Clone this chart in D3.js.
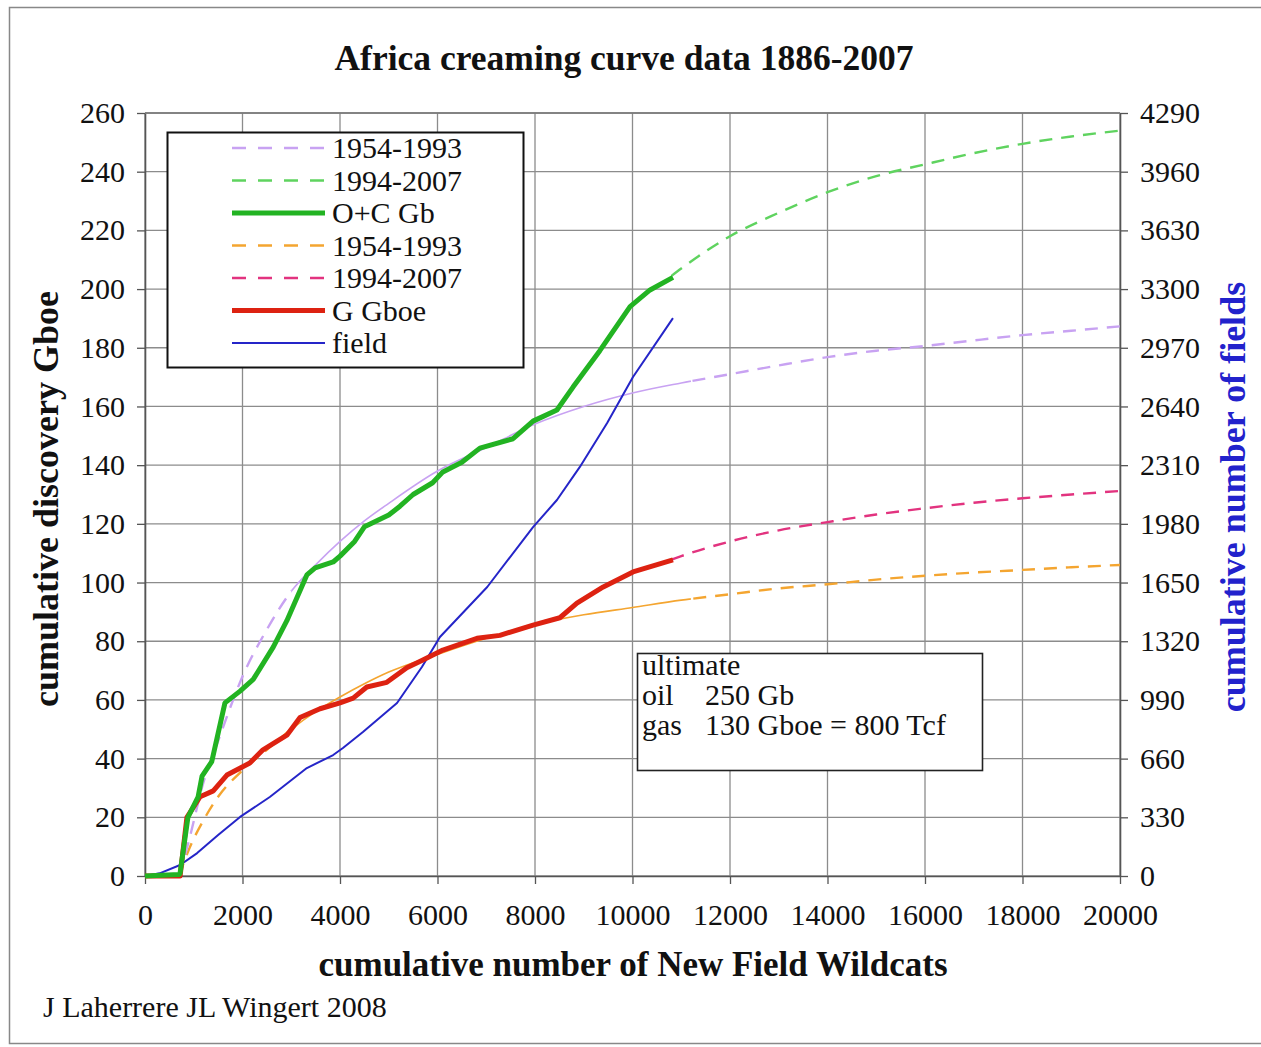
<!DOCTYPE html>
<html>
<head>
<meta charset="utf-8">
<script src="https://cdn.jsdelivr.net/npm/d3@7"></script>
<style>
  body { margin: 0; background: #fff; }
  text { font-family: "Liberation Serif", "Times New Roman", serif; fill: #111; }
</style>
</head>
<body>
<div id="chart"></div>
<script>
// cumulative New Field Wildcats (x) and discoveries

// O+C Gb, data
var ocWildcats = [0, 700, 720, 880, 1090, 1170, 1370, 1640, 1950, 2220, 2630, 2910, 3320, 3490, 3860, 4000, 4300, 4500, 5000, 5230, 5500, 5900, 6110, 6500, 6870, 7550, 7960, 8450, 8780, 9330, 9950, 10360, 10830];
var ocGb       = [0, 0.5, 1, 20, 27, 34, 39, 59, 63, 67, 78, 87, 102.6, 105, 107, 109, 114, 119, 123, 126, 130, 134, 137.7, 141, 145.8, 149, 155, 158.8, 166.6, 179, 194, 199.7, 204];

// G Gboe, data
var gWildcats = [0, 720, 860, 1130, 1400, 1680, 2150, 2420, 2910, 3180, 3590, 4000, 4270, 4550, 4960, 5370, 5700, 6110, 6810, 7280, 7960, 8510, 8860, 9400, 10010, 10830];
var gGboe     = [0, 0, 20, 27, 29, 34.4, 38.5, 43, 48, 54, 57, 59, 60.6, 64.4, 66, 71, 73.6, 77, 81, 82, 85.5, 88, 93, 98.5, 103.6, 107.7];

// field count (right axis)
var fieldWildcats = [0, 300, 720, 1070, 1500, 1950, 2560, 3320, 3860, 4060, 4470, 5170, 5680, 6050, 7020, 7960, 8450, 8920, 9480, 10010, 10830];
var fields        = [0, 15, 62, 129, 230, 332, 444, 607, 680, 720, 810, 973, 1175, 1344, 1625, 1962, 2114, 2300, 2547, 2806, 3137];

// fitted curves 1954-1993
var fitEarlyWildcats = [700, 900, 1200, 1500, 2000, 2500, 3000, 3500, 4000, 4500, 5000, 6000, 7000, 8000, 9000, 10000, 11000, 12000, 13000, 14000, 15000, 16000, 17000, 18000, 19000, 20000];
var ocFitEarly = [0, 12, 32, 46, 68, 84, 97, 106, 114, 121, 127, 138, 146, 154, 160, 164.6, 168, 171, 174, 176.8, 179, 180.6, 182.5, 184.3, 185.8, 187.3];
var gFitEarly  = [0, 9, 19, 27, 36, 43, 50, 56, 61, 65.5, 69.5, 75.5, 81, 85.7, 89, 91.5, 94, 96, 98, 99.4, 101, 102.3, 103.4, 104.3, 105.2, 106];

// fitted curves 1994-2007
var fitLateWildcats = [10800, 11000, 12000, 13000, 14000, 15000, 16000, 17000, 18000, 19000, 20000];
var ocFitLate = [204.5, 207, 218, 226, 233, 238.5, 242.5, 246.3, 249.5, 252, 254];
var gFitLate  = [107.8, 109, 114, 117.8, 120.6, 123.2, 125.3, 127.2, 128.7, 130, 131.2];

// axes ticks
var xTicks = d3.range(0, 20001, 2000);
var yTicks = d3.range(0, 261, 20);
var fieldTicks = d3.range(0, 4291, 330);

var legendLabels = ["1954-1993", "1994-2007", "O+C Gb", "1954-1993", "1994-2007", "G Gboe", "field"];
var noteLines = [["ultimate", ""], ["oil", "250 Gb"], ["gas", "130 Gboe = 800 Tcf"]];

var W = 1261, H = 1047;
var svg = d3.select("#chart").append("svg").attr("width", W).attr("height", H);

// outer frame
svg.append("rect").attr("x", 9.5).attr("y", 7.5).attr("width", 1262).attr("height", 1036)
  .attr("fill", "none").attr("stroke", "#888").attr("stroke-width", 1.5);

var x = d3.scaleLinear().domain([0, 20000]).range([145, 1120]);
var y = d3.scaleLinear().domain([0, 260]).range([876, 113]);
var yF = d3.scaleLinear().domain([0, 4290]).range([876, 113]);

// grid
var grid = svg.append("g");
grid.selectAll(".gx").data(xTicks).enter().append("line")
  .attr("x1", function (d) { return x(d); }).attr("x2", function (d) { return x(d); })
  .attr("y1", y(0)).attr("y2", y(260))
  .attr("stroke", "#8c8c8c").attr("stroke-width", 1.3);
grid.selectAll(".gy").data(yTicks).enter().append("line")
  .attr("x1", x(0)).attr("x2", x(20000))
  .attr("y1", function (d) { return y(d); }).attr("y2", function (d) { return y(d); })
  .attr("stroke", "#8c8c8c").attr("stroke-width", 1.3);

// axes
var fmt = d3.format("d");
function styleAxis(g) {
  g.selectAll("path").attr("stroke", "#555").attr("stroke-width", 1.6);
  g.selectAll("line").attr("stroke", "#555").attr("stroke-width", 1.3);
  g.selectAll("text").attr("font-size", 30).attr("fill", "#111")
    .attr("font-family", "Liberation Serif, Times New Roman, serif");
}
svg.append("g").attr("transform", "translate(" + x(0) + ",0)")
  .call(d3.axisLeft(y).tickValues(yTicks).tickFormat(fmt).tickSize(8).tickPadding(12).tickSizeOuter(0))
  .call(styleAxis);
svg.append("g").attr("transform", "translate(" + x(20000) + ",0)")
  .call(d3.axisRight(yF).tickValues(fieldTicks).tickFormat(fmt).tickSize(8).tickPadding(12).tickSizeOuter(0))
  .call(styleAxis);
svg.append("g").attr("transform", "translate(0," + y(0) + ")")
  .call(d3.axisBottom(x).tickValues(xTicks).tickFormat(fmt).tickSize(8).tickPadding(20).tickSizeOuter(0))
  .call(styleAxis);
svg.append("line").attr("x1", x(0)).attr("x2", x(20000)).attr("y1", y(260)).attr("y2", y(260))
  .attr("stroke", "#777").attr("stroke-width", 1.5);

// series
var colors = {
  ocEarly: "#c8a2f2", ocLate: "#5fd35f", oc: "#22b322",
  gEarly: "#f4a530", gLate: "#e2337f", g: "#dd2211", field: "#2525c8"
};
var DASH = "13,9";

function pts(xs, ys) { return xs.map(function (d, i) { return [d, ys[i]]; }); }
var fitL = d3.line().x(function (d) { return x(d[0]); }).y(function (d) { return y(d[1]); }).curve(d3.curveMonotoneX);
var dataL = d3.line().x(function (d) { return x(d[0]); }).y(function (d) { return y(d[1]); });
var dataF = d3.line().x(function (d) { return x(d[0]); }).y(function (d) { return yF(d[1]); });

// solid section of the early fits (where the data is dense)
svg.append("clipPath").attr("id", "fitSolid").append("rect")
  .attr("x", x(3000)).attr("y", 0).attr("width", x(11200) - x(3000)).attr("height", H);
svg.append("clipPath").attr("id", "fitDashed").append("rect")
  .attr("x", 0).attr("y", 0).attr("width", x(3000)).attr("height", H);
svg.append("clipPath").attr("id", "fitDashed2").append("rect")
  .attr("x", x(11200)).attr("y", 0).attr("width", W).attr("height", H);

function fitCurve(data, color) {
  var g = svg.append("g");
  ["fitDashed", "fitDashed2"].forEach(function (id) {
    g.append("path").datum(data).attr("d", fitL).attr("fill", "none")
      .attr("stroke", color).attr("stroke-width", 2.4).attr("stroke-dasharray", DASH)
      .attr("clip-path", "url(#" + id + ")");
  });
  g.append("path").datum(data).attr("d", fitL).attr("fill", "none")
    .attr("stroke", color).attr("stroke-width", 1.6).attr("clip-path", "url(#fitSolid)");
}
fitCurve(pts(fitEarlyWildcats, gFitEarly), colors.gEarly);
fitCurve(pts(fitEarlyWildcats, ocFitEarly), colors.ocEarly);

svg.append("path").datum(pts(fitLateWildcats, gFitLate)).attr("d", fitL).attr("fill", "none")
  .attr("stroke", colors.gLate).attr("stroke-width", 2.4).attr("stroke-dasharray", DASH);
svg.append("path").datum(pts(fitLateWildcats, ocFitLate)).attr("d", fitL).attr("fill", "none")
  .attr("stroke", colors.ocLate).attr("stroke-width", 2.4).attr("stroke-dasharray", DASH);

svg.append("path").datum(pts(fieldWildcats, fields)).attr("d", dataF).attr("fill", "none")
  .attr("stroke", colors.field).attr("stroke-width", 2).attr("stroke-linejoin", "round");
svg.append("path").datum(pts(gWildcats, gGboe)).attr("d", dataL).attr("fill", "none")
  .attr("stroke", colors.g).attr("stroke-width", 5).attr("stroke-linejoin", "round");
svg.append("path").datum(pts(ocWildcats, ocGb)).attr("d", dataL).attr("fill", "none")
  .attr("stroke", colors.oc).attr("stroke-width", 5).attr("stroke-linejoin", "round");

// legend
var legStyles = [
  { c: colors.ocEarly, w: 2.4, dash: "14,12" },
  { c: colors.ocLate, w: 2.4, dash: "14,12" },
  { c: colors.oc, w: 5, dash: null },
  { c: colors.gEarly, w: 2.4, dash: "14,12" },
  { c: colors.gLate, w: 2.4, dash: "14,12" },
  { c: colors.g, w: 5, dash: null },
  { c: colors.field, w: 2, dash: null }
];
var leg = svg.append("g");
leg.append("rect").attr("x", 167.5).attr("y", 132.5).attr("width", 356).attr("height", 235)
  .attr("fill", "#fff").attr("stroke", "#111").attr("stroke-width", 2);
legendLabels.forEach(function (lab, i) {
  var cy = 148 + i * 32.5;
  leg.append("line").attr("x1", 232).attr("x2", 325).attr("y1", cy).attr("y2", cy)
    .attr("stroke", legStyles[i].c).attr("stroke-width", legStyles[i].w)
    .attr("stroke-dasharray", legStyles[i].dash);
  leg.append("text").attr("x", 332).attr("y", cy + 10).attr("font-size", 30).text(lab);
});

// note box
var note = svg.append("g");
note.append("rect").attr("x", 637.5).attr("y", 653.5).attr("width", 345).attr("height", 117)
  .attr("fill", "#fff").attr("stroke", "#222").attr("stroke-width", 1.6);
noteLines.forEach(function (l, i) {
  var by = 675 + i * 30;
  note.append("text").attr("x", 642).attr("y", by).attr("font-size", 30).text(l[0]);
  if (l[1]) note.append("text").attr("x", 705).attr("y", by).attr("font-size", 30).text(l[1]);
});

// titles
svg.append("text").attr("x", 624).attr("y", 70).attr("text-anchor", "middle")
  .attr("font-size", 35.5).attr("font-weight", "bold").text("Africa creaming curve data 1886-2007");
svg.append("text").attr("x", 633).attr("y", 976).attr("text-anchor", "middle")
  .attr("font-size", 35).attr("font-weight", "bold").text("cumulative number of New Field Wildcats");
svg.append("text").attr("transform", "translate(58,499) rotate(-90)").attr("text-anchor", "middle")
  .attr("font-size", 36).attr("font-weight", "bold").text("cumulative discovery Gboe");
svg.append("text").attr("transform", "translate(1245,497) rotate(-90)").attr("text-anchor", "middle")
  .attr("font-size", 36).attr("font-weight", "bold").style("fill", "#2222cc").text("cumulative number of fields");
svg.append("text").attr("x", 43).attr("y", 1017).attr("font-size", 30).text("J Laherrere JL Wingert 2008");
</script>
</body>
</html>
